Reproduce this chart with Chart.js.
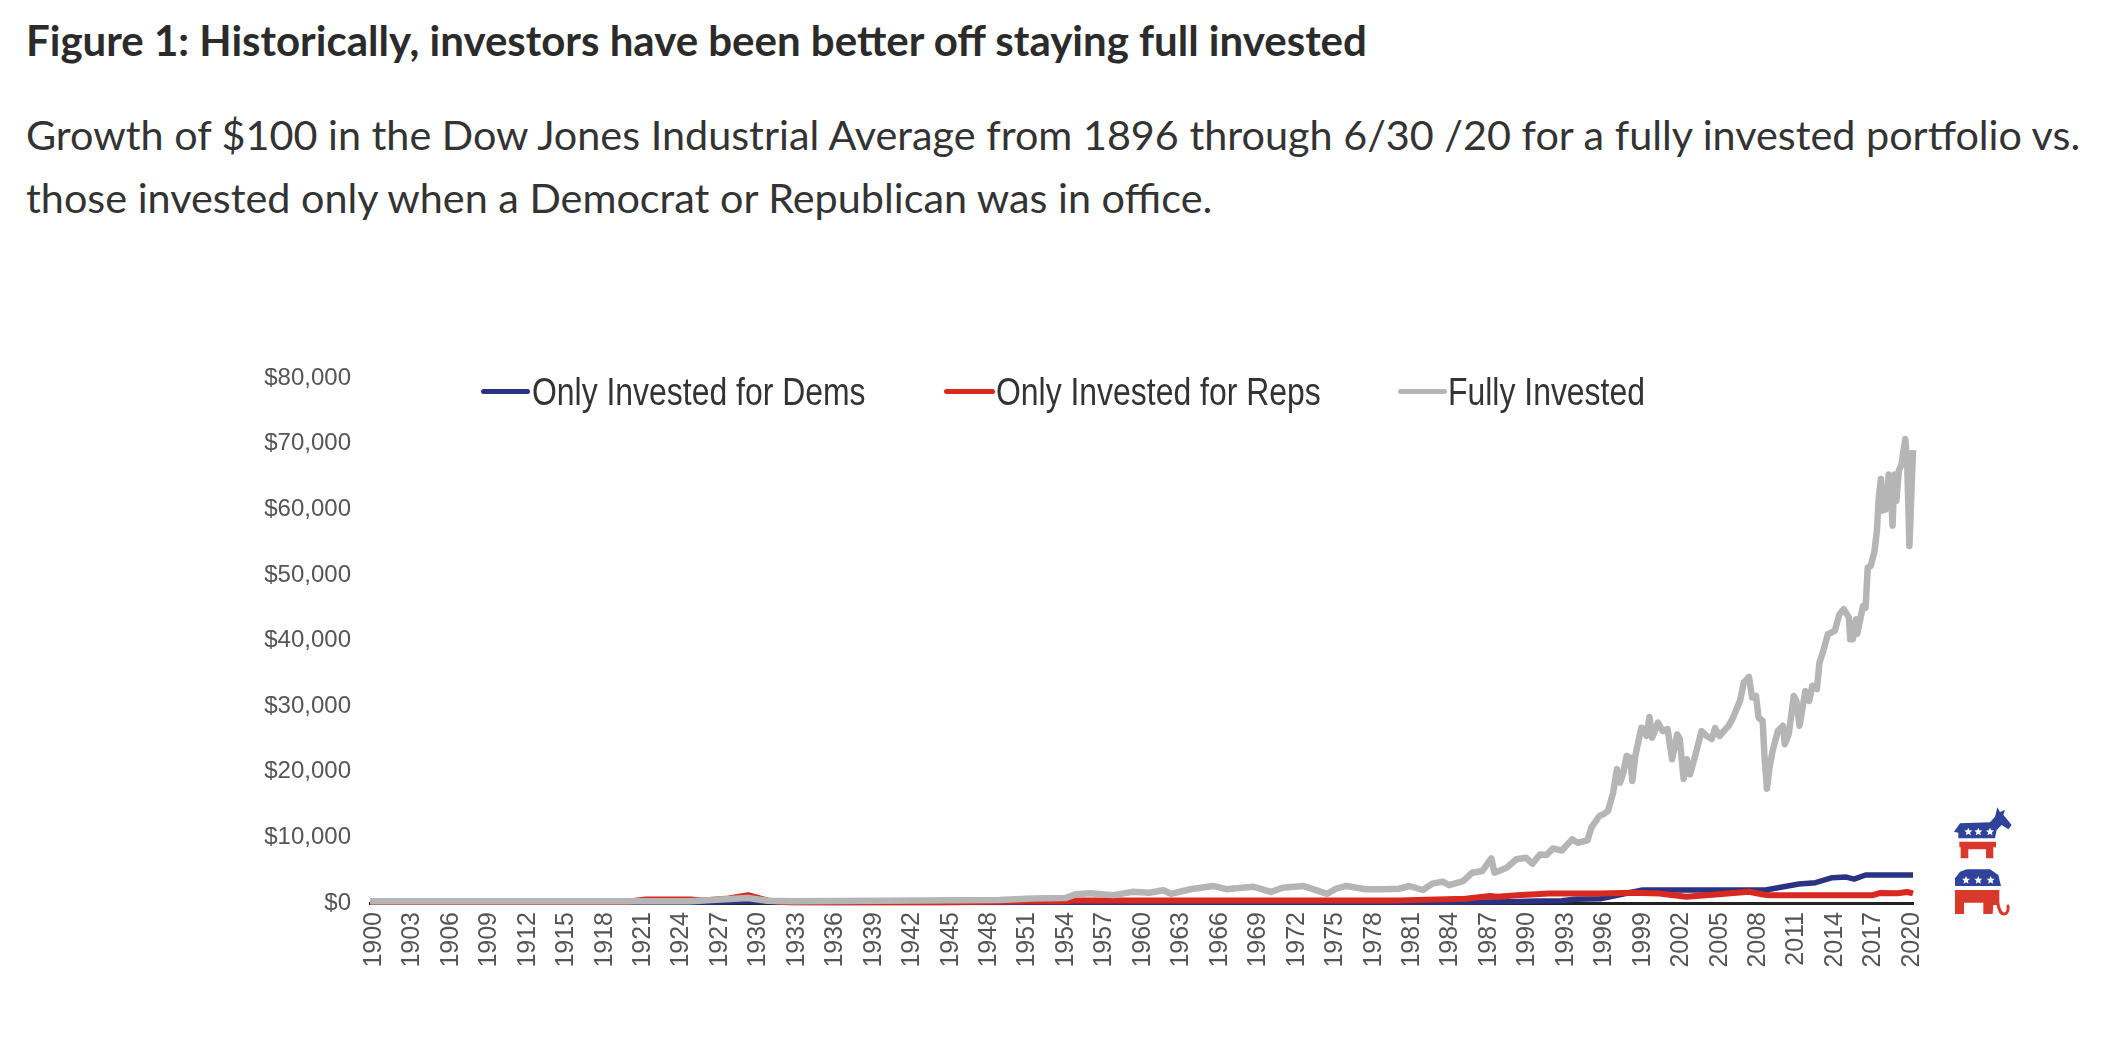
<!DOCTYPE html>
<html><head><meta charset="utf-8">
<script src="https://cdn.jsdelivr.net/npm/chart.js@4"></script>
<style>
html,body{margin:0;padding:0;background:#fff;width:2124px;height:1039px;overflow:hidden}
canvas{position:absolute;left:0;top:0;filter:blur(0.7px)}
.t{position:absolute;left:26px;white-space:nowrap;font-family:Lato,sans-serif;color:#2b2b2b}
#title{top:15px;font-size:42px;font-weight:700;line-height:50px}
#sub1{top:109px;font-size:41.35px;line-height:50px;color:#333}
#sub2{top:172px;font-size:41.35px;line-height:50px;color:#333}
.lg{position:absolute;top:369px;height:46px;line-height:46px;font-family:"Liberation Sans",sans-serif;font-size:38px;color:#333;white-space:nowrap;transform:scaleX(0.84);transform-origin:left center;filter:blur(0.4px)}
.ln{position:absolute;top:389px;height:5px;border-radius:3px}
svg{position:absolute;left:1940px;top:790px;filter:blur(0.6px)}
</style></head><body>
<div class="t" id="title">Figure 1: Historically, investors have been better off staying full invested</div>
<div class="t" id="sub1">Growth of $100 in the Dow Jones Industrial Average from 1896 through 6/30 /20 for a fully invested portfolio vs.</div>
<div class="t" id="sub2">those invested only when a Democrat or Republican was in office.</div>
<canvas id="c" width="2124" height="1039"></canvas>
<svg width="110" height="140" viewBox="0 0 330 420">
<defs><path id="s" d="M0 -12L3.5 -4L12 -3.5L5.5 2.5L7.5 11L0 6.5L-7.5 11L-5.5 2.5L-12 -3.5L-3.5 -4Z"/></defs>
<path fill="#2f439b" d="M42 125L60 100L150 97L165 80L172 52L180 66L195 60L190 74L215 105L205 118L185 105L170 120L165 145L55 145L55 128Z"/>
<path fill="#d8392b" d="M58 155L168 155L168 172L160 172L160 205L138 205L138 178L85 178L85 205L62 205L62 172L58 172Z"/>
<path fill="#2f439b" d="M45 288L45 265L60 245L80 238L150 238L175 255L183 288Z"/>
<path fill="#d8392b" d="M45 300L178 300L178 345L160 345L158 372L130 372L130 338L72 338L72 372L45 372Z"/>
<path fill="none" stroke="#d8392b" stroke-width="9" stroke-linecap="round" d="M172 335C176 355 180 372 192 372C202 372 206 360 204 348"/>
<g fill="#fff"><use href="#s" x="85" y="125"/><use href="#s" x="115" y="125"/><use href="#s" x="150" y="125"/><use href="#s" x="78" y="270"/><use href="#s" x="115" y="270"/><use href="#s" x="152" y="270"/></g>
</svg>
<script>
const tickYears=[1900,1903,1906,1909,1912,1915,1918,1921,1924,1927,1930,1933,1936,1939,1942,1945,1948,1951,1954,1957,1960,1963,1966,1969,1972,1975,1978,1981,1984,1987,1990,1993,1996,1999,2002,2005,2008,2011,2014,2017,2020];
const tickValues=[0,10000,20000,30000,40000,50000,60000,70000,80000];

const fullYears=[1900,1915,1925,1927,1929.5,1931,1933,1940,1949.1,1951.7,1954.3,1955.1,1956.2,1958,1959.5,1960.8,1961.9,1962.5,1964,1965.8,1966.8,1968.9,1970.3,1971.2,1972.8,1974.7,1975.4,1976.2,1977.7,1979,1980.3,1981.1,1982.15,1982.9,1983.7,1984.2,1985.3,1986,1986.8,1987.5,1987.75,1988.7,1989.45,1990.2,1990.7,1991.3,1991.8,1992.3,1993,1993.8,1994.25,1995,1995.3,1995.94,1996.2,1996.6,1997,1997.3,1997.55,1997.8,1998.05,1998.33,1998.5,1998.73,1999.2,1999.45,1999.6,1999.84,2000.05,2000.5,2000.86,2001.25,2001.6,2002,2002.2,2002.5,2002.75,2003,2003.4,2003.9,2004.3,2004.7,2004.96,2005.3,2006,2006.3,2006.9,2007.2,2007.6,2007.85,2008.15,2008.35,2008.67,2008.8,2009,2009.2,2009.45,2009.85,2010.25,2010.4,2010.7,2011.1,2011.3,2011.55,2012,2012.3,2012.55,2012.9,2013.1,2013.4,2013.75,2014.3,2014.66,2015,2015.4,2015.5,2015.7,2015.96,2016.05,2016.5,2016.7,2016.87,2017.1,2017.4,2017.58,2017.73,2017.9,2018,2018.3,2018.5,2018.7,2018.8,2018.96,2019.1,2019.3,2019.5,2019.8,2019.95,2020.12,2020.4];
const fullValues=[250,250,250,500,750,350,250,350,450,700,780,1350,1500,1200,1700,1570,1950,1400,2100,2600,2100,2480,1680,2330,2600,1400,2200,2600,2100,2100,2170,2590,1980,2950,3250,2740,3350,4620,4880,6800,4620,5380,6660,6900,5980,7400,7300,8320,8000,9700,9180,9540,11480,13300,13500,14000,16800,20400,18350,19850,22400,22150,18600,22400,26700,26500,25450,28350,25200,27500,26200,26500,21900,25700,25000,18900,21900,19600,22400,26200,25450,25000,26650,25450,27000,28000,30800,33600,34450,31300,31550,28250,27750,22700,17400,20600,23200,26200,27000,24200,25700,31550,30800,27000,32300,30800,33100,32600,36600,38400,40950,41460,44000,44770,43480,40200,40200,43250,41000,45260,45000,51100,51360,53650,56700,61800,64600,59800,60000,65300,62000,57500,65300,61300,65900,66800,70700,66800,54400,69000];

const demYears=[1900,1926,1928,1929.5,1931.5,1933,1955,1975,1985,1989,1991,1993,1994,1996,1999.3,2008.9,2011.5,2012.8,2014.1,2015.2,2015.8,2016.7,2020.4];
const demValues=[100,100,200,300,150,60,100,150,100,200,300,350,560,650,1980,1980,2900,3100,3860,3950,3650,4270,4270];

const repYears=[1900,1920,1921.5,1925,1926,1928,1929.5,1931,1932,1936,1945,1951.7,1954.3,1955.1,1980.3,1985.5,1987.4,1988,1989.5,1992,1996,1998.5,2000.6,2002.7,2005,2007.6,2008.7,2009.2,2017.2,2017.8,2019.2,2019.95,2020.4];
const repValues=[150,150,550,550,400,700,1200,400,150,100,100,250,260,400,400,650,1070,960,1170,1460,1460,1570,1460,960,1300,1720,1300,1170,1170,1520,1480,1680,1460];

const series=[
 {name:'Only Invested for Dems',color:'#2a3382',width:5.5,order:2,years:demYears,values:demValues,lineFrom:481,lineTo:530,textAt:532},
 {name:'Only Invested for Reps',color:'#d9281f',width:6,order:1,years:repYears,values:repValues,lineFrom:944,lineTo:995,textAt:996},
 {name:'Fully Invested',color:'#b5b5b5',width:6.5,order:0,years:fullYears,values:fullValues,lineFrom:1398,lineTo:1447,textAt:1448}
];
series.forEach(s=>{
 const l=document.createElement('div');l.className='ln';l.style.left=s.lineFrom+'px';l.style.width=(s.lineTo-s.lineFrom)+'px';l.style.background=s.color;document.body.appendChild(l);
 const t=document.createElement('div');t.className='lg';t.style.left=s.textAt+'px';t.textContent=s.name;document.body.appendChild(t);
});
new Chart(document.getElementById('c'),{
 type:'line',
 data:{datasets:series.map(s=>({label:s.name,order:s.order,data:s.years.map((y,i)=>({x:y,y:s.values[i]})),borderColor:s.color,borderWidth:s.width,pointRadius:0,tension:0,borderJoinStyle:'round',borderCapStyle:'butt',clip:false}))},
 options:{responsive:false,animation:false,devicePixelRatio:1,
  layout:{padding:{left:0,right:211,top:378,bottom:0}},
  plugins:{legend:{display:false},title:{display:false},tooltip:{enabled:false}},
  scales:{
   x:{type:'linear',min:1900,max:2020.4,
    afterBuildTicks:a=>{a.ticks=tickYears.map(v=>({value:v}))},
    afterFit:a=>{a.height=136},
    grid:{display:false,drawTicks:false},border:{display:true,color:'#222',width:3},
    ticks:{autoSkip:false,maxRotation:90,minRotation:90,padding:9,labelOffset:4,color:'#555',font:{family:'"Liberation Sans"',size:25},callback:v=>String(v)}},
   y:{type:'linear',min:0,max:80000,
    afterBuildTicks:a=>{a.ticks=tickValues.map(v=>({value:v}))},
    afterFit:a=>{a.width=370},
    grid:{display:false,drawTicks:false},border:{display:false},
    ticks:{padding:19,color:'#555',font:{family:'"Liberation Sans"',size:24},callback:v=>'$'+Number(v).toLocaleString('en-US')}}
  }
 }
});
</script>
</body></html>
